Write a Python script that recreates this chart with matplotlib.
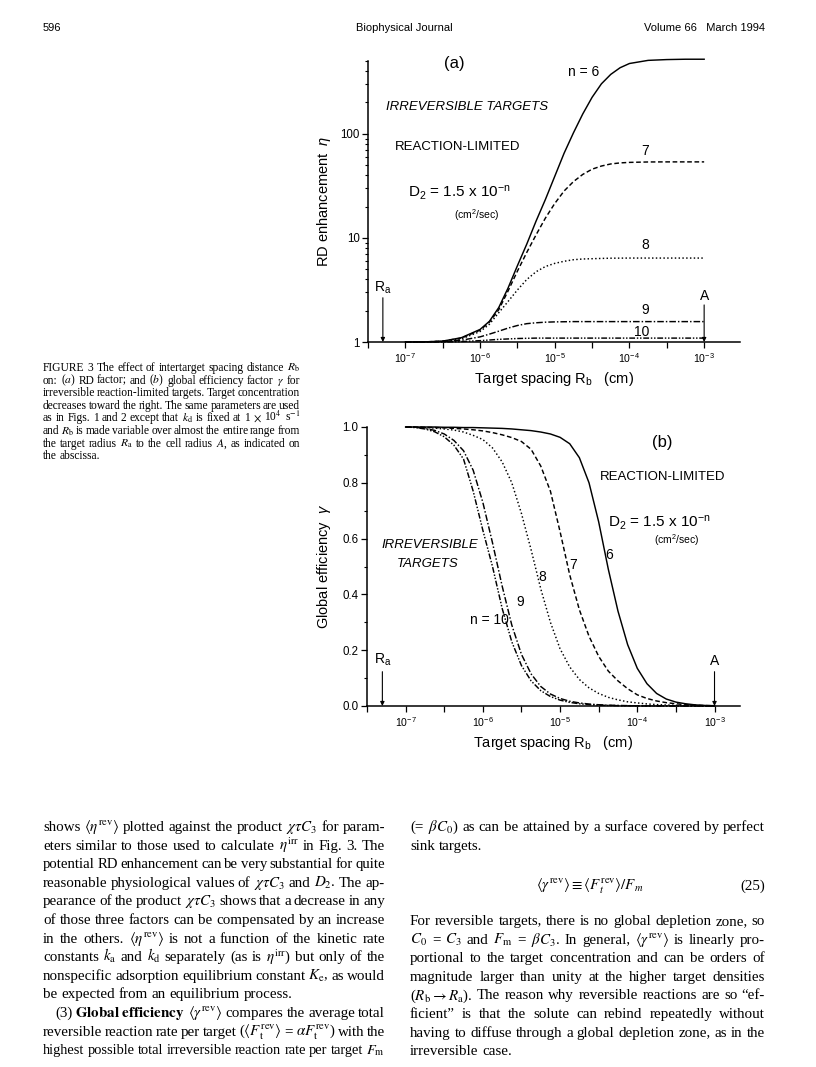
import matplotlib
matplotlib.use('Agg')
import matplotlib.pyplot as plt
from matplotlib.ticker import FixedLocator, NullFormatter
import numpy as np

W, H = 816, 1067

plt.rcParams['font.family'] = ['Liberation Sans', 'DejaVu Sans']
plt.rcParams['mathtext.fontset'] = 'custom'
plt.rcParams['mathtext.rm'] = 'Liberation Sans'
plt.rcParams['mathtext.it'] = 'Liberation Sans:italic'
plt.rcParams['mathtext.bf'] = 'Liberation Sans:bold'

# ---- panel (a): RD enhancement eta vs log10(Rb) ----
rb_a = [-7.0, -6.75, -6.5, -6.25, -6.0, -5.875, -5.75, -5.625, -5.5, -5.375,
        -5.25, -5.125, -5.0, -4.875, -4.75, -4.625, -4.5, -4.375, -4.25,
        -4.125, -4.0, -3.75, -3.5, -3.25, -3.0]
eta_n6 = [1.0, 1.002, 1.019, 1.10, 1.32, 1.58, 2.14, 3.3, 5.4, 8.7,
          14.5, 23.4, 39, 65, 102, 155, 224, 302, 372,
          431, 473, 507, 516, 520, 520]
eta_n7 = [1.0, 1.002, 1.019, 1.09, 1.30, 1.55, 2.04, 3.09, 4.79, 7.24,
          10.7, 15.5, 21.4, 28.2, 34.7, 40.7, 45.7, 49.0, 51.3,
          52.5, 53.1, 53.6, 53.7, 53.7, 53.7]
eta_n8 = [1.0, 1.002, 1.014, 1.07, 1.26, 1.48, 1.91, 2.45, 3.16, 3.98,
          4.73, 5.31, 5.69, 5.96, 6.17, 6.27, 6.31, 6.35, 6.38,
          6.39, 6.4, 6.4, 6.4, 6.4, 6.4]
eta_n9 = [1.0, 1.002, 1.01, 1.04, 1.12, 1.19, 1.27, 1.36, 1.44, 1.50,
          1.53, 1.55, 1.56, 1.565, 1.57, 1.57, 1.57, 1.57, 1.57,
          1.57, 1.57, 1.57, 1.57, 1.57, 1.57]
eta_n10 = [1.0, 1.0, 1.0, 1.01, 1.03, 1.045, 1.06, 1.07, 1.08, 1.085,
           1.09, 1.09, 1.09, 1.09, 1.09, 1.09, 1.09, 1.09, 1.09,
           1.09, 1.09, 1.09, 1.09, 1.09, 1.09]

# ---- panel (b): global efficiency gamma vs log10(Rb) ----
rb_b = [-7.0, -6.875, -6.75, -6.625, -6.5, -6.375, -6.25, -6.125, -6.0,
        -5.875, -5.75, -5.625, -5.5, -5.375, -5.25, -5.125, -5.0, -4.875,
        -4.75, -4.625, -4.5, -4.375, -4.25, -4.125, -4.0, -3.875, -3.75,
        -3.625, -3.5, -3.375, -3.25, -3.125, -3.0]
gam_n6 = [1.0, 1.0, 1.0, 1.0, 0.999, 0.999, 0.998, 0.998, 0.997,
          0.996, 0.995, 0.993, 0.99, 0.987, 0.982, 0.975, 0.963, 0.94,
          0.89, 0.80, 0.66, 0.49, 0.34, 0.22, 0.135, 0.08, 0.045,
          0.025, 0.014, 0.008, 0.004, 0.002, 0.001]
gam_n7 = [1.0, 1.0, 0.999, 0.998, 0.997, 0.995, 0.993, 0.99, 0.986,
          0.98, 0.972, 0.962, 0.948, 0.92, 0.86, 0.77, 0.625, 0.47,
          0.345, 0.25, 0.178, 0.125, 0.09, 0.062, 0.04, 0.027, 0.018,
          0.012, 0.008, 0.005, 0.003, 0.0015, 0.001]
gam_n8 = [1.0, 0.999, 0.998, 0.996, 0.993, 0.989, 0.982, 0.97, 0.955,
          0.925, 0.875, 0.80, 0.69, 0.56, 0.42, 0.30, 0.205, 0.14,
          0.095, 0.065, 0.045, 0.031, 0.022, 0.015, 0.011, 0.0075, 0.005,
          0.0035, 0.0025, 0.0017, 0.0012, 0.0008, 0.0005]
gam_n9 = [1.0, 0.999, 0.995, 0.988, 0.975, 0.952, 0.915, 0.845, 0.73,
          0.585, 0.43, 0.29, 0.185, 0.115, 0.07, 0.043, 0.027, 0.017,
          0.011, 0.007, 0.0045, 0.003, 0.002, 0.0013, 0.0008, 0.0005, 0.0003,
          0.0002, 0.0001, 0.0001, 0.0, 0.0, 0.0]
gam_n10 = [1.0, 0.998, 0.993, 0.983, 0.965, 0.935, 0.885, 0.77, 0.63,
           0.50, 0.35, 0.23, 0.145, 0.09, 0.055, 0.034, 0.021, 0.013,
           0.008, 0.005, 0.003, 0.002, 0.0012, 0.0008, 0.0005, 0.0003, 0.0002,
           0.0001, 0.0001, 0.0, 0.0, 0.0, 0.0]

n_values = ['6', '7', '8', '9', '10']
styles = [dict(ls='-'),
          dict(dashes=(3.2, 1.8)),
          dict(dashes=(1.0, 1.6)),
          dict(dashes=(4.5, 1.4, 1.0, 1.4)),
          dict(dashes=(4.0, 1.2, 1.0, 1.2, 1.0, 1.2))]

Ra_pos = 5e-8
A_pos = 1e-3


def frac(x, y):
    return x / W, 1 - y / H


def style_axes(ax):
    for s in ['top', 'right']:
        ax.spines[s].set_visible(False)
    for s in ['left', 'bottom']:
        ax.spines[s].set_linewidth(1.1)
    ax.set_xscale('log')
    ax.xaxis.set_major_locator(FixedLocator([1e-7, 1e-6, 1e-5, 1e-4, 1e-3]))
    ax.set_xticklabels(['$10^{-7}$', '$10^{-6}$', '$10^{-5}$', '$10^{-4}$', '$10^{-3}$'])
    ax.xaxis.set_minor_locator(FixedLocator(10 ** np.arange(-7.5, -2.4, 1.0)))
    ax.xaxis.set_minor_formatter(NullFormatter())
    ax.tick_params(axis='x', which='major', labelsize=7.6, length=4, width=0.9, pad=2.5)
    ax.tick_params(axis='x', which='minor', length=4, width=0.9)
    ax.tick_params(axis='y', which='major', labelsize=8.3, length=4, width=0.9, pad=2)
    ax.tick_params(axis='y', which='minor', length=2.5, width=0.8)
    ax.set_xlabel('Target spacing R$_\\mathrm{b}$   (cm)', fontsize=10.5, labelpad=4)


def arrow(ax, x, y0, y1):
    ax.annotate('', xy=(x, y1), xytext=(x, y0),
                arrowprops=dict(arrowstyle='-|>', lw=0.8, color='black',
                                mutation_scale=6, shrinkA=0, shrinkB=0))


fig = plt.figure(figsize=(W / 100, H / 100), dpi=100)
fig.patch.set_facecolor('white')

# ---------------- panel (a) ----------------
axa = fig.add_axes([368 / W, 1 - 342 / H, (740 - 368) / W, (342 - 61) / H])
style_axes(axa)
curves_a = [eta_n6, eta_n7, eta_n8, eta_n9, eta_n10]
xa = 10 ** np.array(rb_a)
for vals, st in zip(curves_a, styles):
    axa.plot(xa, vals, color='black', lw=1.05, clip_on=False, **st)
axa.set_yscale('log')
axa.set_xlim(10 ** -7.5, 10 ** -2.52)
axa.set_ylim(1, 500)
axa.yaxis.set_major_locator(FixedLocator([1, 10, 100]))
axa.set_yticklabels(['1', '10', '100'])
axa.yaxis.set_minor_locator(FixedLocator([k * 10 ** e for e in range(0, 3) for k in range(2, 10) if k * 10 ** e <= 500]))
axa.yaxis.set_minor_formatter(NullFormatter())
axa.set_ylabel('RD enhancement  $\\eta$', fontsize=10.5, labelpad=5)

axa.text(10 ** -6.34, 468, '(a)', fontsize=12, ha='center', va='center')
axa.text(10 ** -4.62, 392, 'n = 6', fontsize=10, ha='center', va='center')
axa.text(10 ** -6.17, 180, 'IRREVERSIBLE TARGETS', fontsize=9.5, style='italic', ha='center', va='center')
axa.text(10 ** -6.30, 74, 'REACTION-LIMITED', fontsize=9.5, ha='center', va='center')
axa.text(10 ** -6.28, 27.4, 'D$_2$ = 1.5 x 10$^{\\mathrm{-n}}$', fontsize=11, ha='center', va='center')
axa.text(10 ** -6.05, 16.7, '(cm$^2$/sec)', fontsize=7.5, ha='center', va='center')
axa.text(10 ** -3.79, 68, n_values[1], fontsize=10, ha='center', va='center')
axa.text(10 ** -3.79, 8.6, n_values[2], fontsize=10, ha='center', va='center')
axa.text(10 ** -3.79, 2.03, n_values[3], fontsize=10, ha='center', va='center')
axa.text(10 ** -3.83, 1.25, n_values[4], fontsize=10, ha='center', va='center')
arrow(axa, Ra_pos, 2.66, 1.0)
arrow(axa, A_pos, 2.27, 1.0)
axa.text(Ra_pos, 2.75, 'R$_\\mathrm{a}$', fontsize=10, ha='center', va='bottom')
axa.text(A_pos, 2.35, 'A', fontsize=10, ha='center', va='bottom')

# ---------------- panel (b) ----------------
axb = fig.add_axes([367 / W, 1 - 706 / H, (740 - 367) / W, (706 - 427) / H])
style_axes(axb)
curves_b = [gam_n6, gam_n7, gam_n8, gam_n9, gam_n10]
xb = 10 ** np.array(rb_b)
for vals, st in zip(curves_b, styles):
    axb.plot(xb, vals, color='black', lw=1.05, clip_on=False, **st)
axb.set_xlim(10 ** -7.5, 10 ** -2.67)
axb.set_ylim(0, 1.0)
axb.yaxis.set_major_locator(FixedLocator([0.0, 0.2, 0.4, 0.6, 0.8, 1.0]))
axb.set_yticklabels(['0.0', '0.2', '0.4', '0.6', '0.8', '1.0'])
axb.yaxis.set_minor_locator(FixedLocator([0.1, 0.3, 0.5, 0.7, 0.9]))
axb.set_ylabel('Global efficiency  $\\gamma$', fontsize=10.5, labelpad=7)

axb.text(10 ** -3.68, 0.943, '(b)', fontsize=12, ha='center', va='center')
axb.text(10 ** -3.67, 0.82, 'REACTION-LIMITED', fontsize=9.5, ha='center', va='center')
axb.text(10 ** -3.71, 0.656, 'D$_2$ = 1.5 x 10$^{\\mathrm{-n}}$', fontsize=11, ha='center', va='center')
axb.text(10 ** -3.49, 0.595, '(cm$^2$/sec)', fontsize=7.5, ha='center', va='center')
axb.text(10 ** -6.69, 0.577, 'IRREVERSIBLE', fontsize=9.5, style='italic', ha='center', va='center')
axb.text(10 ** -6.72, 0.509, 'TARGETS', fontsize=9.5, style='italic', ha='center', va='center')
axb.text(10 ** -4.37, 0.541, n_values[0], fontsize=10, ha='center', va='center')
axb.text(10 ** -4.83, 0.505, n_values[1], fontsize=10, ha='center', va='center')
axb.text(10 ** -5.23, 0.462, n_values[2], fontsize=10, ha='center', va='center')
axb.text(10 ** -5.52, 0.373, n_values[3], fontsize=10, ha='center', va='center')
axb.text(10 ** -5.91, 0.308, 'n = ' + n_values[4], fontsize=10, ha='center', va='center')
arrow(axb, Ra_pos, 0.123, 0.0)
arrow(axb, A_pos, 0.123, 0.0)
axb.text(Ra_pos, 0.135, 'R$_\\mathrm{a}$', fontsize=10, ha='center', va='bottom')
axb.text(A_pos, 0.135, 'A', fontsize=10, ha='center', va='bottom')

# ---------------- page text ----------------
fig.text(*frac(43, 28), '596', fontsize=8, ha='left', va='center')
fig.text(*frac(404, 28), 'Biophysical Journal', fontsize=8, ha='center', va='center')
fig.text(*frac(765, 28), 'Volume 66   March 1994', fontsize=8, ha='right', va='center')

renderer = fig.canvas.get_renderer()
SERIF = ['Liberation Serif', 'DejaVu Serif']


def split_words(line):
    # split on spaces that are not inside $...$
    words, cur, in_math = [], '', False
    for ch in line:
        if ch == '$':
            in_math = not in_math
        if ch == ' ' and not in_math:
            words.append(cur)
            cur = ''
        else:
            cur += ch
    words.append(cur)
    return [w for w in words if w]


def put_line(line, x0, x1, y, fs, justify=True):
    words = split_words(line)
    texts = [fig.text(0, 0, w, fontsize=fs, family=SERIF, math_fontfamily='stix',
                      ha='left', va='baseline') for w in words]
    while True:
        widths = [t.get_window_extent(renderer).width for t in texts]
        sp = fs * 100 / 72 * 0.25
        if justify and len(words) > 1:
            gap = (x1 - x0 - sum(widths)) / (len(words) - 1)
        else:
            gap = sp
        if gap >= sp * 0.6 or fs < 6:
            break
        fs -= 0.2
        for t in texts:
            t.set_fontsize(fs)
    x = x0
    for t, w in zip(texts, widths):
        t.set_position(frac(x, y))
        x += w + gap


caption = [
    'FIGURE 3  The effect of intertarget spacing distance $R_\\mathrm{b}$',
    'on: ($a$) RD factor; and ($b$) global efficiency factor $\\gamma$ for',
    'irreversible reaction-limited targets. Target concentration',
    'decreases toward the right. The same parameters are used',
    'as in Figs. 1 and 2 except that $k_\\mathrm{d}$ is fixed at 1 $\\times$ 10$^4$ s$^{-1}$',
    'and $R_\\mathrm{b}$ is made variable over almost the entire range from',
    'the target radius $R_\\mathrm{a}$ to the cell radius $A$, as indicated on',
    'the abscissa.',
]
for i, line in enumerate(caption):
    put_line(line, 43, 300, 371 + 12.6 * i, 8.3, justify=(i < len(caption) - 1))

left_col = [
    'shows $\\langle\\eta^\\mathrm{rev}\\rangle$ plotted against the product $\\chi\\tau C_3$ for param-',
    'eters similar to those used to calculate $\\eta^\\mathrm{irr}$ in Fig. 3. The',
    'potential RD enhancement can be very substantial for quite',
    'reasonable physiological values of $\\chi\\tau C_3$ and $D_2$. The ap-',
    'pearance of the product $\\chi\\tau C_3$ shows that a decrease in any',
    'of those three factors can be compensated by an increase',
    'in the others. $\\langle\\eta^\\mathrm{rev}\\rangle$ is not a function of the kinetic rate',
    'constants $k_\\mathrm{a}$ and $k_\\mathrm{d}$ separately (as is $\\eta^\\mathrm{irr}$) but only of the',
    'nonspecific adsorption equilibrium constant $K_\\mathrm{e}$, as would',
    'be expected from an equilibrium process.',
    '    (3) $\\mathbf{Global\\ efficiency}$ $\\langle\\gamma^\\mathrm{rev}\\rangle$ compares the average total',
    'reversible reaction rate per target ($\\langle F_\\mathrm{t}^\\mathrm{rev}\\rangle$ = $\\alpha F_\\mathrm{t}^\\mathrm{rev}$) with the',
    'highest possible total irreversible reaction rate per target $F_\\mathrm{m}$',
]
BODY = 10.8
for i, line in enumerate(left_col):
    x0 = 43
    if line.startswith('    '):
        line = line.strip()
        x0 = 55
    put_line(line, x0, 385, 831 + 18.6 * i, BODY, justify=(i != 9))

right_top = [
    '(= $\\beta C_0$) as can be attained by a surface covered by perfect',
    'sink targets.',
]
right_bottom = [
    'For reversible targets, there is no global depletion zone, so',
    '$C_0$ = $C_3$ and $F_\\mathrm{m}$ = $\\beta C_3$. In general, $\\langle\\gamma^\\mathrm{rev}\\rangle$ is linearly pro-',
    'portional to the target concentration and can be orders of',
    'magnitude larger than unity at the higher target densities',
    '($R_\\mathrm{b}\\rightarrow R_\\mathrm{a}$). The reason why reversible reactions are so \u201cef-',
    'ficient\u201d is that the solute can rebind repeatedly without',
    'having to diffuse through a global depletion zone, as in the',
    'irreversible case.',
]
for i, line in enumerate(right_top):
    put_line(line, 410, 765, 831 + 18.6 * i, BODY, justify=(i == 0))
fig.text(*frac(590, 890), '$\\langle\\gamma^\\mathrm{rev}\\rangle\\equiv\\langle F_t^\\mathrm{rev}\\rangle/F_m$',
         fontsize=BODY, math_fontfamily='stix', ha='center', va='baseline')
fig.text(*frac(765, 890), '(25)', fontsize=BODY, family=SERIF, ha='right', va='baseline')
for i, line in enumerate(right_bottom):
    put_line(line, 410, 765, 925 + 18.6 * i, BODY, justify=(i < len(right_bottom) - 1))

fig.savefig('out.png', dpi=100, facecolor='white')
